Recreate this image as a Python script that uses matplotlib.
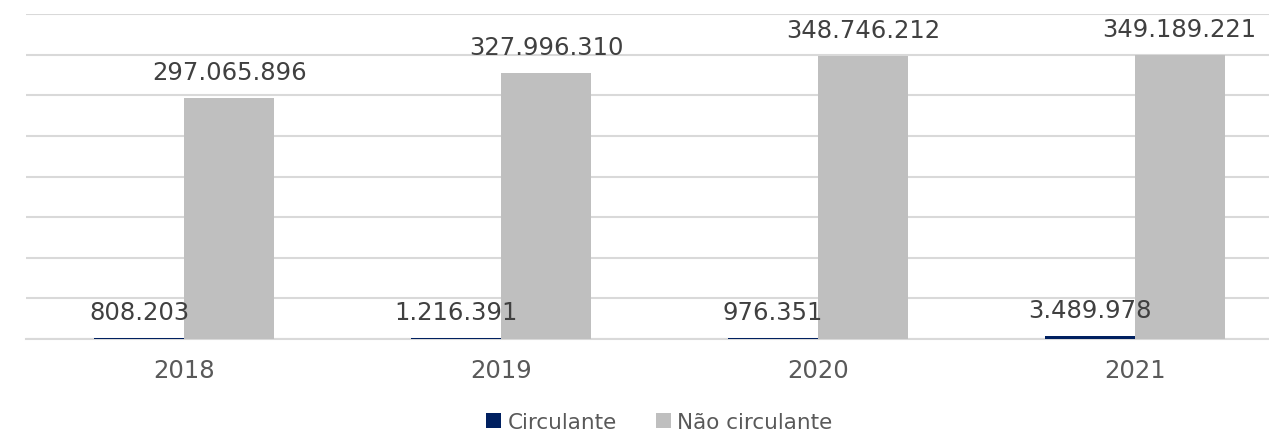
import numpy as np
import matplotlib
matplotlib.use('Agg')
import matplotlib.pyplot as plt

years = ['2018', '2019', '2020', '2021']
circulante = [808203, 1216391, 976351, 3489978]
nao_circulante = [297065896, 327996310, 348746212, 349189221]

COLZ = ['#002060', '#bfbfbf']

def fmt(v):
    return f'{v:,}'.replace(',', '.')

fig = plt.figure(figsize=(12.69, 4.35), dpi=100)
W, H = 1269, 435
ax = fig.add_axes([26 / W, (H - 340) / H, 1267 / W, 325 / H])

x = np.arange(len(years))
w = 0.284
b1 = ax.bar(x - w / 2, circulante, w, color=COLZ[0], label='Circulante', zorder=3)
b2 = ax.bar(x + w / 2, nao_circulante, w, color=COLZ[1], label='Não circulante', zorder=3)

for bars, vals in [(b1, circulante), (b2, nao_circulante)]:
    ax.bar_label(bars, labels=[fmt(v) for v in vals], padding=10,
                 fontsize=17.5, color='#404040', zorder=4)

ax.set_xlim(-0.5, 3.5)
ax.set_ylim(0, 400e6)
ax.set_yticks(np.arange(0, 400e6 + 1, 50e6))
ax.yaxis.grid(True, color='#d9d9d9', lw=1.5, zorder=0)
ax.tick_params(axis='y', left=False, labelleft=False)
ax.tick_params(axis='x', bottom=False, labelsize=17.5, labelcolor='#595959', pad=10)
ax.set_xticks(x)
ax.set_xticklabels(years)
for s in ['top', 'right', 'left']:
    ax.spines[s].set_visible(False)
ax.spines['bottom'].set_color('#d9d9d9')
ax.spines['bottom'].set_linewidth(1.5)

fig.legend(loc='center', bbox_to_anchor=((26 + 1267 / 2) / W, 12 / H), ncol=2,
           frameon=False, fontsize=15.5, labelcolor='#595959',
           handlelength=0.7, handleheight=0.7, handletextpad=0.3, columnspacing=1.8)

fig.savefig('out.png', dpi=100)
